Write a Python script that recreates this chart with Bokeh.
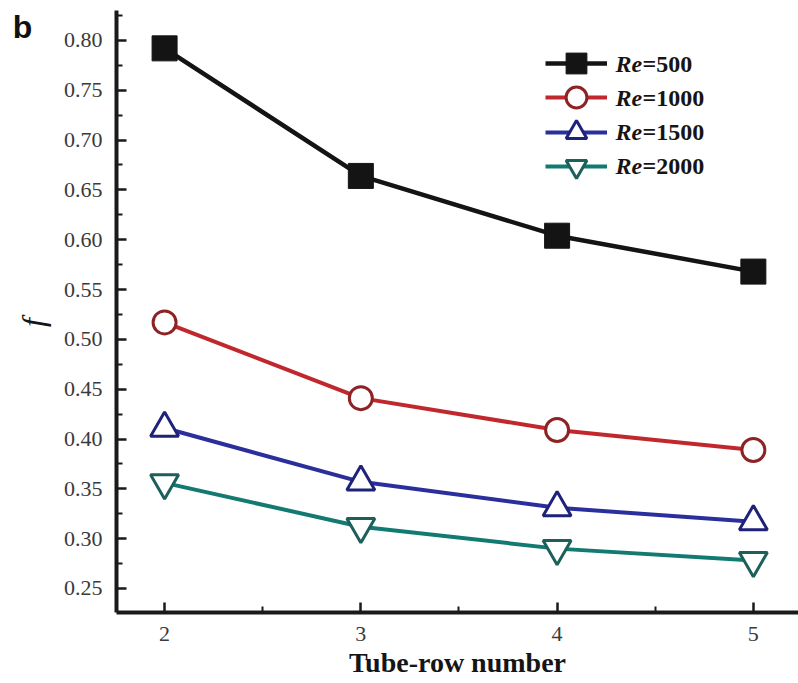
import math
from bokeh.plotting import figure
from bokeh.models import FixedTicker, Range1d, Legend, LegendItem, Label, NumeralTickFormatter
from bokeh.core.properties import value
from bokeh.embed import file_html
from bokeh.resources import INLINE

# Friction factor f against tube-row number for four Reynolds numbers
tube_rows = [2, 3, 4, 5]
f_re500 = [0.792, 0.664, 0.604, 0.568]
f_re1000 = [0.517, 0.441, 0.409, 0.389]
f_re1500 = [0.411, 0.357, 0.331, 0.317]
f_re2000 = [0.356, 0.312, 0.290, 0.278]
re_values = ["500", "1000", "1500", "2000"]

x_major = [2, 3, 4, 5]
x_minor = [2.5, 3.5, 4.5]
y_major = [0.25, 0.30, 0.35, 0.40, 0.45, 0.50, 0.55, 0.60, 0.65, 0.70, 0.75, 0.80]
y_minor = [0.275, 0.325, 0.375, 0.425, 0.475, 0.525, 0.575, 0.625, 0.675, 0.725, 0.775, 0.825]

W, H = 798, 683
LEFT, BOTTOM, TOP = 116, 71, 10

p = figure(width=W, height=H, output_backend="svg", toolbar_location=None,
           x_range=Range1d(1.755, 5.23), y_range=Range1d(0.2259, 0.830),
           min_border_left=LEFT, min_border_right=0, min_border_top=TOP,
           min_border_bottom=BOTTOM)
p.outline_line_color = None
p.grid.visible = False
p.background_fill_color = "white"
p.border_fill_color = "white"

p.xaxis.ticker = FixedTicker(ticks=x_major, minor_ticks=x_minor)
p.yaxis.ticker = FixedTicker(ticks=y_major, minor_ticks=y_minor)
p.xaxis.formatter = NumeralTickFormatter(format="0")
p.yaxis.formatter = NumeralTickFormatter(format="0.00")

for ax in (p.xaxis[0], p.yaxis[0]):
    ax.axis_line_width = 4
    ax.axis_line_color = "#1a1a1a"
    ax.major_tick_in = 10
    ax.major_tick_out = 0
    ax.minor_tick_in = 6
    ax.minor_tick_out = 0
    ax.major_tick_line_width = 2.5
    ax.minor_tick_line_width = 2
    ax.major_tick_line_color = "#1a1a1a"
    ax.minor_tick_line_color = "#1a1a1a"
    ax.major_label_text_font = "Liberation Serif"
    ax.major_label_text_font_size = "22px"
    ax.major_label_text_color = "#3a3a3a"
    ax.major_label_standoff = 14

p.xaxis.axis_label = "Tube-row number"
p.xaxis.axis_label_text_font = "Liberation Serif"
p.xaxis.axis_label_text_font_style = "bold"
p.xaxis.axis_label_text_font_size = "28px"
p.xaxis.axis_label_text_color = "#151515"
p.xaxis.axis_label_standoff = 3

series = [
    (f_re500, dict(marker="square", size=25, fill_color="#141414", line_color="#141414", line_width=1),
     "#141414", 4.5),
    (f_re1000, dict(marker="circle", size=23, fill_color="white", line_color="#8e2326", line_width=3),
     "#c0282e", 4),
    (f_re1500, dict(marker="triangle", size=28, fill_color="white", line_color="#1f2378", line_width=3),
     "#2b2f9c", 4),
    (f_re2000, dict(marker="inverted_triangle", size=28, fill_color="white", line_color="#1c5f5b", line_width=3),
     "#137a72", 4),
]

# legend layout (canvas pixels)
legend_left = 545
legend_first_row = 63
legend_pitch = 34.3
glyph_w, glyph_h = 62, 52
text_left = 615
re_width = 27

for i, (vals, mstyle, lcolor, lw) in enumerate(series):
    ln = p.line(tube_rows, vals, line_color=lcolor, line_width=lw, line_join="round")
    mk = p.scatter(tube_rows, vals, **mstyle)

    row_y = legend_first_row + i * legend_pitch
    lg = Legend(items=[LegendItem(label=value(" "), renderers=[ln, mk])],
                location=(legend_left - LEFT, H - BOTTOM - row_y - glyph_h / 2),
                glyph_width=glyph_w, glyph_height=glyph_h, padding=0, margin=0,
                spacing=0, label_standoff=0, border_line_color=None,
                background_fill_alpha=0, label_text_font_size="2px")
    p.add_layout(lg)

    y_screen = H - BOTTOM - row_y
    p.add_layout(Label(x=text_left - LEFT, y=y_screen, x_units="screen", y_units="screen",
                       text="Re", text_font="Liberation Serif", text_font_style="bold italic",
                       text_font_size="24px", text_baseline="middle", text_align="left",
                       text_color="#151515"))
    p.add_layout(Label(x=text_left - LEFT + re_width, y=y_screen, x_units="screen", y_units="screen",
                       text="=" + re_values[i], text_font="Liberation Serif", text_font_style="bold",
                       text_font_size="24px", text_baseline="middle", text_align="left",
                       text_color="#151515"))

# panel letter and y-axis symbol live in the left side panel so they are not clipped by the frame;
# x is measured from each label's own slot in that panel
p.add_layout(Label(x=-18, y=H - BOTTOM - 26, x_units="screen", y_units="screen",
                   text="b", text_font="Liberation Sans", text_font_style="bold",
                   text_font_size="32px", text_baseline="middle", text_align="center",
                   text_color="#111111"), "left")
p.add_layout(Label(x=28, y=H - BOTTOM - 322, x_units="screen", y_units="screen",
                   text="f", text_font="Liberation Serif", text_font_style="italic",
                   text_font_size="32px", angle=math.pi / 2,
                   text_baseline="middle", text_align="center",
                   text_color="#151515"), "left")

open("out.html", "w").write(file_html(p, INLINE))
